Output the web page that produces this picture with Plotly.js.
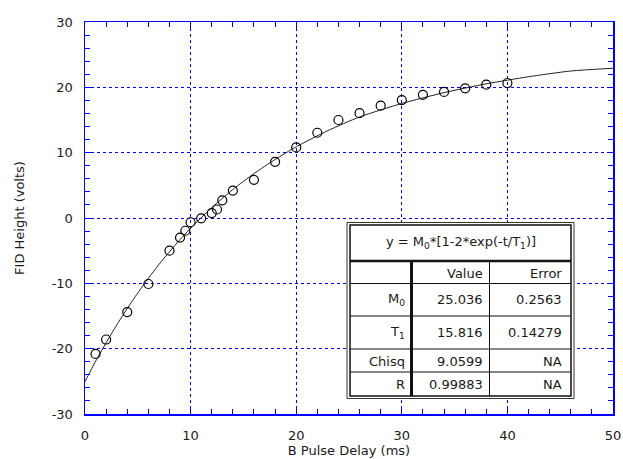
<!DOCTYPE html>
<html>
<head>
<meta charset="utf-8">
<script src="https://cdn.plot.ly/plotly-3.0.1.min.js"></script>
<style>html,body{margin:0;padding:0;background:#fff;}#chart{width:623px;height:459px;}</style>
</head>
<body>
<div id="chart"></div>
<script>
// Measured data points
const delayMs = [1, 2, 4, 6, 8, 9, 9.5, 10, 11, 12, 12.5, 13, 14, 16, 18, 20, 22, 24, 26, 28, 30, 32, 34, 36, 38, 40];
const fidVolts = [-20.8, -18.6, -14.4, -10.1, -5.0, -3.0, -1.95, -0.65, -0.05, 0.75, 1.3, 2.7, 4.2, 5.85, 8.6, 10.8, 13.05, 15.0, 16.05, 17.2, 18.05, 18.86, 19.3, 19.85, 20.4, 20.66];

// Fit curve (y = M0*[1-2*exp(-t/T1)])
const fitT = [0, 1, 2, 3, 4, 5, 6, 7, 8, 9, 10, 12, 14, 16, 18, 20, 23, 26, 30, 34, 38, 42, 46, 50];
const fitY = [-25.04, -21.93, -19.09, -16.38, -13.85, -11.47, -9.23, -7.12, -5.16, -3.30, -1.57, 1.59, 4.36, 6.80, 8.95, 10.90, 13.38, 15.47, 17.53, 19.19, 20.54, 21.62, 22.50, 22.92];

// Axis ticks
const xTickVals = [0, 10, 20, 30, 40, 50];
const xTickText = ["0", "10", "20", "30", "40", "50"];
const yTickVals = [-30, -20, -10, 0, 10, 20, 30];
const yTickText = ["-30", "-20", "-10", "0", "10", "20", "30"];

// Fit results table
const tableTitle = "y = M<sub>0</sub>*[1-2*exp(-t/T<sub>1</sub>)]";
const rowLabels = ["", "M<sub>0</sub>", "T<sub>1</sub>", "Chisq", "R"];
const valueCol = ["Value", "25.036", "15.816", "9.0599", "0.99883"];
const errorCol = ["Error", "0.2563", "0.14279", "NA", "NA"];

const xTitle = "B Pulse Delay (ms)";
const yTitle = "FID Height (volts)";

const W = 623, H = 459;
const mL = 85, mR = 10, mT = 22, mB = 45;
const pw = W - mL - mR, ph = H - mT - mB;
const px = v => (v - mL) / pw;
const py = v => (H - mB - v) / ph;

const FONT = "DejaVu Sans, Verdana, sans-serif";
const BLUE = "#0000ff";
const TXT = "#1a1a1a";

const traces = [
  {x: fitT, y: fitY, mode: "lines", line: {color: "#222", width: 1, shape: "spline", smoothing: 0.6}, hoverinfo: "skip"},
  {x: delayMs, y: fidVolts, mode: "markers",
   marker: {symbol: "circle-open", size: 9, color: "#000", line: {color: "#000", width: 1.2}}}
];

const tL = 350, tR = 571, tTop = 225, tBot = 396;
const rowCenters = [273, 299.5, 332.5, 361, 384];

const shapes = [];
shapes.push({type: "rect", xref: "paper", yref: "paper", x0: px(347), x1: px(574), y0: py(222.5), y1: py(398.5),
  line: {color: "#333", width: 1}, fillcolor: "#fff", layer: "above"});
shapes.push({type: "rect", xref: "paper", yref: "paper", x0: px(tL), x1: px(tR), y0: py(tTop), y1: py(tBot),
  line: {color: "#111", width: 1.5}, fillcolor: "#fff", layer: "above"});
shapes.push({type: "line", xref: "paper", yref: "paper", x0: px(tL), x1: px(tR), y0: py(261), y1: py(261),
  line: {color: "#111", width: 2.5}, layer: "above"});
[283.5, 316, 349, 372].forEach(r => shapes.push({type: "line", xref: "paper", yref: "paper",
  x0: px(tL), x1: px(tR), y0: py(r), y1: py(r), line: {color: "#111", width: 1}, layer: "above"}));
shapes.push({type: "line", xref: "paper", yref: "paper", x0: px(411.5), x1: px(411.5), y0: py(261), y1: py(tBot),
  line: {color: "#111", width: 3}, layer: "above"});
shapes.push({type: "line", xref: "paper", yref: "paper", x0: px(489.5), x1: px(489.5), y0: py(261), y1: py(tBot),
  line: {color: "#111", width: 1}, layer: "above"});

const annotations = [];
const tf = {family: FONT, size: 13, color: TXT};
annotations.push({xref: "paper", yref: "paper", x: px((tL + tR) / 2), y: py(243), text: tableTitle,
  showarrow: false, font: tf, xanchor: "center", yanchor: "middle"});
for (let i = 0; i < rowLabels.length; i++) {
  const yy = py(rowCenters[i]);
  if (rowLabels[i]) annotations.push({xref: "paper", yref: "paper", x: px(407), y: yy, text: rowLabels[i],
    showarrow: false, font: tf, xanchor: "right", yanchor: "middle"});
  annotations.push({xref: "paper", yref: "paper", x: px(485), y: yy, text: valueCol[i],
    showarrow: false, font: tf, xanchor: "right", yanchor: "middle"});
  annotations.push({xref: "paper", yref: "paper", x: px(564), y: yy, text: errorCol[i],
    showarrow: false, font: tf, xanchor: "right", yanchor: "middle"});
}

const axisCommon = {
  showline: true, linecolor: BLUE, linewidth: 1.5, mirror: "ticks",
  ticks: "inside", ticklen: 6, tickcolor: BLUE, tickwidth: 1,
  showgrid: true, gridcolor: BLUE, griddash: "dot", gridwidth: 1,
  zeroline: false, tickmode: "array",
  tickfont: {family: FONT, size: 13, color: TXT},
  minor: {tickmode: "linear", tick0: 0, dtick: 2, ticks: "inside", ticklen: 5, tickcolor: BLUE, showgrid: false}
};

const layout = {
  width: W, height: H,
  margin: {l: mL, r: mR, t: mT, b: mB},
  paper_bgcolor: "#fff", plot_bgcolor: "#fff",
  showlegend: false,
  xaxis: Object.assign({}, axisCommon, {range: [0, 50], tickvals: xTickVals, ticktext: xTickText,
    ticklabelstandoff: 9,
    title: {text: xTitle, font: {family: FONT, size: 13, color: TXT}, standoff: 0}}),
  yaxis: Object.assign({}, axisCommon, {range: [-30, 30], tickvals: yTickVals, ticktext: yTickText,
    ticklabelstandoff: 8,
    title: {text: yTitle, font: {family: FONT, size: 13, color: TXT}, standoff: 24}}),
  shapes: shapes,
  annotations: annotations
};

Plotly.newPlot("chart", traces, layout, {displayModeBar: false, staticPlot: true});
</script>
</body>
</html>
